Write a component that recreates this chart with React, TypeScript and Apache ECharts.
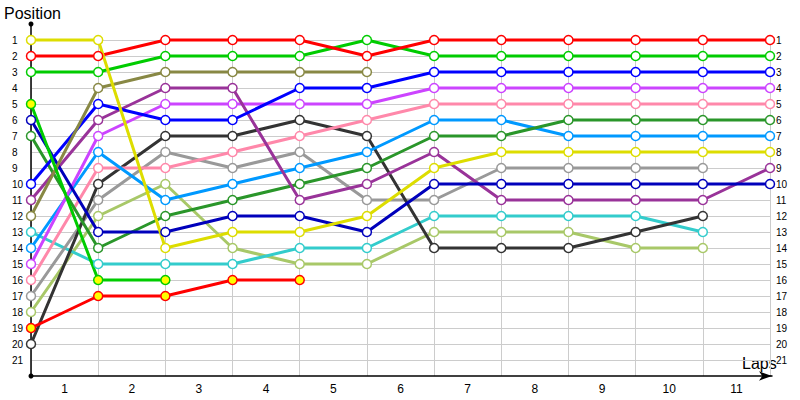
import { useEffect, useRef } from 'react';
import * as echarts from 'echarts';

// lap labels shown under the bands; points sit on the band edges (0 = start)
const lapLabels = ['1', '2', '3', '4', '5', '6', '7', '8', '9', '10', '11'];
const positionCount = 21;

// race position after each lap, index 0 = grid position
const yellowPos = [1, 1, 14, 13, 13, 12, 9, 8, 8, 8, 8, 8];
const redPos = [2, 2, 1, 1, 1, 2, 1, 1, 1, 1, 1, 1];
const greenPos = [3, 3, 2, 2, 2, 1, 2, 2, 2, 2, 2, 2];
const olivePos = [12, 4, 3, 3, 3, 3];
const bluePos = [10, 5, 6, 6, 4, 4, 3, 3, 3, 3, 3, 3];
const navyPos = [6, 13, 13, 12, 12, 13, 10, 10, 10, 10, 10, 10];
const purplePos = [11, 6, 4, 4, 11, 10, 8, 11, 11, 11, 11, 9];
const violetPos = [15, 7, 5, 5, 5, 5, 4, 4, 4, 4, 4, 4];
const darkGreenPos = [7, 14, 12, 11, 10, 9, 7, 7, 6, 6, 6, 6];
const skyPos = [14, 8, 11, 10, 9, 8, 6, 6, 7, 7, 7, 7];
const pinkPos = [16, 9, 9, 8, 7, 6, 5, 5, 5, 5, 5, 5];
const blackPos = [20, 10, 7, 7, 6, 7, 14, 14, 14, 13, 12];
const greyPos = [17, 11, 8, 9, 8, 11, 11, 9, 9, 9, 9];
const turquoisePos = [13, 15, 15, 15, 14, 14, 12, 12, 12, 12, 13];
const lightGreenPos = [18, 12, 10, 14, 15, 15, 13, 13, 13, 14, 14];
// retired cars
const redOutPos = [19, 17, 17, 16, 16];
const greenOutPos = [5, 16, 16];

const drivers: { pos: number[]; color: string; out?: boolean }[] = [
  { pos: lightGreenPos, color: '#a8c868' },
  { pos: turquoisePos, color: '#33cccc' },
  { pos: greyPos, color: '#999999' },
  { pos: blackPos, color: '#333333' },
  { pos: pinkPos, color: '#ff88aa' },
  { pos: skyPos, color: '#0099ff' },
  { pos: darkGreenPos, color: '#2a962a' },
  { pos: violetPos, color: '#cc44ff' },
  { pos: purplePos, color: '#993399' },
  { pos: navyPos, color: '#0000bb' },
  { pos: bluePos, color: '#0000ff' },
  { pos: olivePos, color: '#888844' },
  { pos: redOutPos, color: '#ff0000', out: true },
  { pos: greenOutPos, color: '#00cc00', out: true },
  { pos: greenPos, color: '#00cc00' },
  { pos: redPos, color: '#ff0000' },
  { pos: yellowPos, color: '#dddd00' },
];

const FONT = 'Liberation Sans';

export default function App() {
  const ref = useRef<HTMLDivElement | null>(null);

  useEffect(() => {
    if (!ref.current) return;
    const chart = echarts.init(ref.current, undefined, { renderer: 'svg' });
    const posLabel = (v: number) => (v >= 1 && v <= positionCount ? String(v) : '');
    const hiddenY = { type: 'value' as const, min: 0, max: 1, show: false };

    chart.setOption({
      animation: false,
      backgroundColor: '#ffffff',
      textStyle: { fontFamily: FONT },
      grid: [
        { left: 31, right: 30, top: 24, bottom: 24 },
        { left: 31, right: 30, top: 35, bottom: 24 },
        { left: 31, right: 28, top: 35, bottom: 24 },
      ],
      xAxis: [
        { gridIndex: 0, type: 'value', min: 0, max: 11, interval: 1, show: false },
        {
          gridIndex: 1,
          type: 'category',
          data: lapLabels,
          boundaryGap: true,
          axisLine: { show: false },
          axisTick: { show: false },
          axisLabel: { color: '#000', fontSize: 12, margin: 7, fontFamily: FONT },
          splitLine: { show: true, lineStyle: { color: '#cccccc', width: 1 } },
        },
        {
          gridIndex: 2,
          type: 'value',
          min: 0,
          max: 1,
          axisLine: { show: true, symbol: ['none', 'arrow'], symbolSize: [7, 13], lineStyle: { color: '#000', width: 1.5 } },
          axisTick: { show: false },
          axisLabel: { show: false },
          splitLine: { show: false },
        },
      ],
      yAxis: [
        {
          gridIndex: 0,
          type: 'value',
          inverse: true,
          min: 0,
          max: 22,
          interval: 1,
          axisLine: { show: true, symbol: ['circle', 'circle'], symbolSize: [5, 5], lineStyle: { color: '#000', width: 1.5 } },
          axisTick: { show: false },
          axisLabel: { color: '#000', fontSize: 10, align: 'left', margin: 19, formatter: posLabel, fontFamily: FONT },
          splitLine: { show: true, showMinLine: false, showMaxLine: false, lineStyle: { color: '#cccccc', width: 1 } },
        },
        {
          gridIndex: 0,
          type: 'value',
          position: 'right',
          inverse: true,
          min: 0,
          max: 22,
          interval: 1,
          axisLine: { show: false },
          axisTick: { show: false },
          axisLabel: { color: '#000', fontSize: 10, align: 'left', margin: 6, formatter: posLabel, fontFamily: FONT },
          splitLine: { show: false },
        },
        { ...hiddenY, gridIndex: 1 },
        { ...hiddenY, gridIndex: 2 },
      ],
      graphic: [
        { type: 'text', left: 4, top: 5, style: { text: 'Position', fontSize: 16, fontFamily: FONT, fill: '#000' } },
        { type: 'text', left: 742, top: 355, style: { text: 'Laps', fontSize: 16, fontFamily: FONT, fill: '#000' } },
      ],
      series: drivers.map((d) => ({
        type: 'line',
        xAxisIndex: 0,
        yAxisIndex: 0,
        data: d.pos.map((p, i) => [i, p]),
        symbol: 'circle',
        symbolSize: 9,
        showAllSymbol: true,
        lineStyle: { color: d.color, width: 3 },
        itemStyle: { color: d.out ? '#ffff00' : '#ffffff', borderColor: d.color, borderWidth: 1.5 },
        emphasis: { disabled: true },
        z: 3,
      })),
    });

    return () => chart.dispose();
  }, []);

  return <div ref={ref} style={{ position: 'absolute', left: 0, top: 0, width: 800, height: 400 }} />;
}
